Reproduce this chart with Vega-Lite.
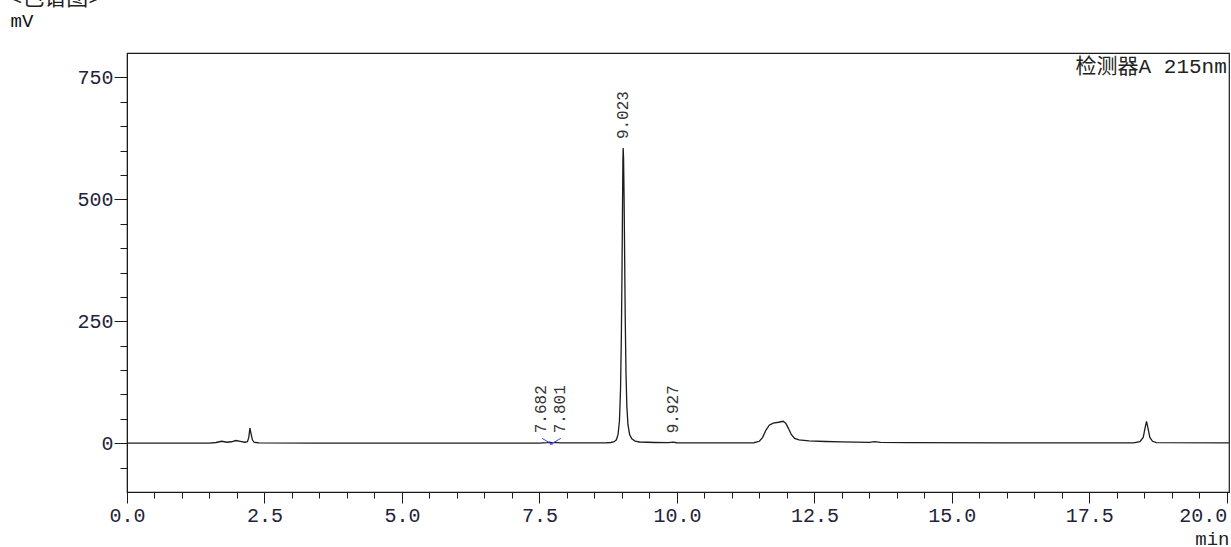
{
  "$schema": "https://vega.github.io/schema/vega-lite/v6.json",
  "autosize": "none",
  "width": 1102,
  "height": 439,
  "padding": {"left": 127, "top": 53, "right": 2, "bottom": 55},
  "background": "white",
  "config": {"view": {"stroke": "#1a1a1a", "strokeWidth": 1.2}},
  "title": {"text": "<色谱图>", "anchor": "start", "frame": "group", "dx": -118, "offset": 1, "font": "Liberation Mono, Noto Sans CJK SC", "fontSize": 22, "fontWeight": "normal", "color": "#222"},
  "datasets": {
    "trace": [
      {"t": 0.0, "mv": 0}, {"t": 1.5, "mv": 0}, {"t": 1.62, "mv": 1.5}, {"t": 1.72, "mv": 4}, {"t": 1.82, "mv": 2}, {"t": 1.9, "mv": 3}, {"t": 1.98, "mv": 5.5}, {"t": 2.06, "mv": 4}, {"t": 2.14, "mv": 2},
      {"t": 2.19, "mv": 3}, {"t": 2.215, "mv": 12}, {"t": 2.235, "mv": 31}, {"t": 2.255, "mv": 20}, {"t": 2.28, "mv": 7}, {"t": 2.31, "mv": 2}, {"t": 2.4, "mv": 0.8},
      {"t": 3.5, "mv": 0.4}, {"t": 5.5, "mv": 0.2}, {"t": 7.5, "mv": 0.3}, {"t": 7.64, "mv": 1.2}, {"t": 7.682, "mv": 2}, {"t": 7.74, "mv": 0.8}, {"t": 7.801, "mv": 1.8}, {"t": 7.87, "mv": 0.6},
      {"t": 8.7, "mv": 0.6}, {"t": 8.8, "mv": 1.5}, {"t": 8.86, "mv": 3}, {"t": 8.9, "mv": 7}, {"t": 8.93, "mv": 18}, {"t": 8.955, "mv": 45}, {"t": 8.975, "mv": 110}, {"t": 8.99, "mv": 220}, {"t": 9.0, "mv": 330}, {"t": 9.01, "mv": 470}, {"t": 9.018, "mv": 580},
      {"t": 9.023, "mv": 605}, {"t": 9.03, "mv": 585}, {"t": 9.04, "mv": 500}, {"t": 9.05, "mv": 380}, {"t": 9.06, "mv": 260}, {"t": 9.075, "mv": 140}, {"t": 9.09, "mv": 75}, {"t": 9.11, "mv": 38}, {"t": 9.14, "mv": 18}, {"t": 9.18, "mv": 9}, {"t": 9.24, "mv": 4.5}, {"t": 9.32, "mv": 2.5},
      {"t": 9.6, "mv": 1.5}, {"t": 9.85, "mv": 1.2}, {"t": 9.927, "mv": 2.2}, {"t": 10.0, "mv": 1}, {"t": 11.0, "mv": 0.6}, {"t": 11.4, "mv": 1},
      {"t": 11.5, "mv": 4}, {"t": 11.56, "mv": 12}, {"t": 11.62, "mv": 27}, {"t": 11.68, "mv": 37}, {"t": 11.75, "mv": 41}, {"t": 11.85, "mv": 43}, {"t": 11.93, "mv": 45}, {"t": 11.98, "mv": 41}, {"t": 12.03, "mv": 30}, {"t": 12.08, "mv": 18}, {"t": 12.14, "mv": 10},
      {"t": 12.22, "mv": 7}, {"t": 12.4, "mv": 5}, {"t": 12.7, "mv": 3.5}, {"t": 13.0, "mv": 2.6}, {"t": 13.5, "mv": 1.8}, {"t": 13.6, "mv": 3.2}, {"t": 13.7, "mv": 1.8}, {"t": 14.2, "mv": 1.2}, {"t": 16.0, "mv": 0.6},
      {"t": 18.3, "mv": 0.6}, {"t": 18.42, "mv": 3}, {"t": 18.48, "mv": 12}, {"t": 18.515, "mv": 32}, {"t": 18.54, "mv": 45}, {"t": 18.565, "mv": 32}, {"t": 18.6, "mv": 12}, {"t": 18.65, "mv": 4}, {"t": 18.72, "mv": 1.2}, {"t": 20.04, "mv": 0.8}
    ],
    "peaks": [
      {"rt": 7.682, "h": 2, "label": "7.682", "grp": "a"},
      {"rt": 7.801, "h": 2, "label": "7.801", "grp": "b"},
      {"rt": 9.023, "h": 605, "label": "9.023", "grp": "c"},
      {"rt": 9.927, "h": 2, "label": "9.927", "grp": "c"}
    ],
    "marks": [
      {"t1": 7.55, "v1": 10, "t2": 7.74, "v2": -3},
      {"t1": 7.69, "v1": -3, "t2": 7.89, "v2": 10}
    ],
    "detector": [{"t": 20.0, "mv": 771, "text": "检测器A 215nm"}]
  },
  "layer": [
    {
      "data": {"name": "trace"},
      "mark": {"type": "line", "color": "#1c1c1c", "strokeWidth": 1.3, "clip": true},
      "encoding": {
        "x": {"field": "t", "type": "quantitative", "scale": {"domain": [0, 20.04], "nice": false, "zero": false},
          "axis": {"orient": "bottom", "values": [0, 2.5, 5, 7.5, 10, 12.5, 15, 17.5, 20], "format": ".1f", "grid": false, "tickSize": 11, "tickColor": "#1a1a1a", "domainColor": "#1a1a1a", "labelFont": "Liberation Mono", "labelFontSize": 20, "labelColor": "#22223a", "labelPadding": 2,
            "labelAlign": {"condition": {"test": "datum.value >= 20", "value": "right"}, "value": "center"},
            "title": "min", "titleFont": "Liberation Mono", "titleFontSize": 19, "titleFontWeight": "normal", "titleColor": "#222", "titleAnchor": "end", "titleAlign": "right", "titleX": 1102, "titleY": 52, "titleBaseline": "alphabetic"}},
        "y": {"field": "mv", "type": "quantitative", "scale": {"domain": [-100, 800], "nice": false, "zero": false},
          "axis": {"orient": "left", "values": [0, 250, 500, 750], "grid": false, "tickSize": 13, "tickColor": "#1a1a1a", "domainColor": "#1a1a1a", "labelFont": "Liberation Mono", "labelFontSize": 20, "labelColor": "#22223a", "labelPadding": 1,
            "title": "mV", "titleFont": "Liberation Mono", "titleFontSize": 19, "titleFontWeight": "normal", "titleColor": "#111", "titleAngle": 0, "titleAlign": "left", "titleBaseline": "alphabetic", "titleX": -117, "titleY": -27}}
      }
    },
    {
      "data": {"name": "marks"},
      "mark": {"type": "rule", "color": "#4040ff", "strokeWidth": 1},
      "encoding": {
        "x": {"field": "t1", "type": "quantitative",
          "axis": {"orient": "bottom", "values": [0.5, 1, 1.5, 2, 3, 3.5, 4, 4.5, 5.5, 6, 6.5, 7, 8, 8.5, 9, 9.5, 10.5, 11, 11.5, 12, 13, 13.5, 14, 14.5, 15.5, 16, 16.5, 17, 18, 18.5, 19, 19.5], "labels": false, "domain": false, "grid": false, "tickSize": 6, "tickColor": "#1a1a1a", "title": null}},
        "x2": {"field": "t2"},
        "y": {"field": "v1", "type": "quantitative",
          "axis": {"orient": "left", "values": [-50, 50, 100, 150, 200, 300, 350, 400, 450, 550, 600, 650, 700], "labels": false, "domain": false, "grid": false, "tickSize": 7, "tickColor": "#1a1a1a", "title": null}},
        "y2": {"field": "v2"}
      }
    },
    {
      "data": {"name": "peaks"},
      "transform": [{"filter": "datum.grp == 'c'"}],
      "mark": {"type": "text", "angle": 270, "align": "left", "baseline": "middle", "dx": 9, "font": "Liberation Mono", "fontSize": 16, "color": "#333"},
      "encoding": {
        "x": {"field": "rt", "type": "quantitative", "axis": null},
        "y": {"field": "h", "type": "quantitative", "axis": null},
        "text": {"field": "label"}
      }
    },
    {
      "data": {"name": "peaks"},
      "transform": [{"filter": "datum.grp == 'a'"}],
      "mark": {"type": "text", "angle": 270, "align": "left", "baseline": "middle", "dx": 9, "dy": -8, "font": "Liberation Mono", "fontSize": 16, "color": "#333"},
      "encoding": {
        "x": {"field": "rt", "type": "quantitative", "axis": null},
        "y": {"field": "h", "type": "quantitative", "axis": null},
        "text": {"field": "label"}
      }
    },
    {
      "data": {"name": "peaks"},
      "transform": [{"filter": "datum.grp == 'b'"}],
      "mark": {"type": "text", "angle": 270, "align": "left", "baseline": "middle", "dx": 9, "dy": 4, "font": "Liberation Mono", "fontSize": 16, "color": "#333"},
      "encoding": {
        "x": {"field": "rt", "type": "quantitative", "axis": null},
        "y": {"field": "h", "type": "quantitative", "axis": null},
        "text": {"field": "label"}
      }
    },
    {
      "data": {"name": "detector"},
      "mark": {"type": "text", "align": "right", "baseline": "middle", "font": "Liberation Mono, Noto Sans CJK SC", "fontSize": 21, "color": "#222"},
      "encoding": {
        "x": {"field": "t", "type": "quantitative", "axis": null},
        "y": {"field": "mv", "type": "quantitative", "axis": null},
        "text": {"field": "text"}
      }
    }
  ],
  "resolve": {"axis": {"x": "independent", "y": "independent"}}
}
